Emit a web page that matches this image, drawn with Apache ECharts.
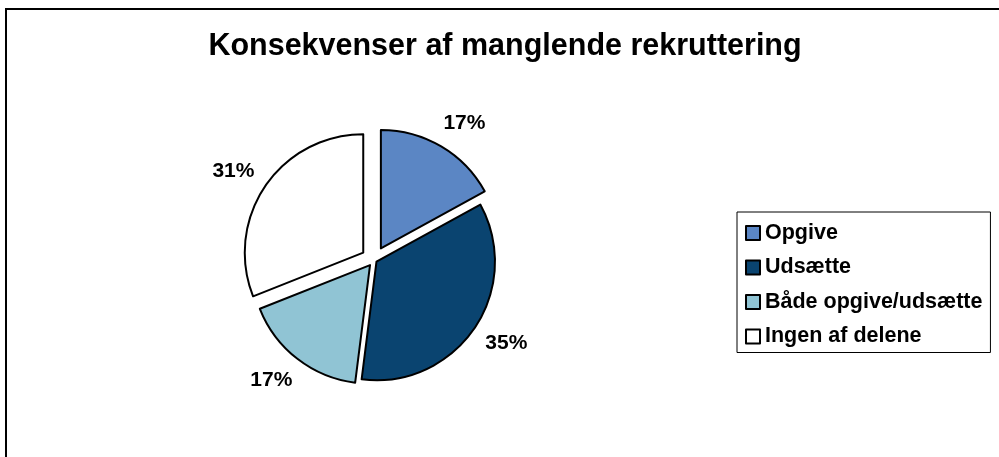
<!DOCTYPE html>
<html>
<head>
<meta charset="utf-8">
<script src="https://cdn.jsdelivr.net/npm/echarts@6/dist/echarts.min.js"></script>
<style>
  html, body { margin: 0; padding: 0; background: #fff; }
  #main { width: 999px; height: 457px; }
</style>
</head>
<body>
<div id="main"></div>
<script>
// data
var categories = ['Opgive', 'Udsætte', 'Både opgive/udsætte', 'Ingen af delene'];
var shares = [17, 35, 17, 31];
var titleText = 'Konsekvenser af manglende rekruttering';

// look of the slices (not data)
var sliceColors = ['#5B86C4', '#0A4470', '#90C4D4', '#FFFFFF'];
var sliceExplode = [13.5, 3, 6.5, 13];

var myChart = echarts.init(document.getElementById('main'));

var fontFam = 'Liberation Sans, Arial, sans-serif';

// one pie layer per slice so every slice can be pulled out by its own amount;
// each layer keeps all values so the angles stay the same, only its own slice is painted
var pieLayers = categories.map(function (_, k) {
    return {
        type: 'pie',
        center: [374, 260],
        radius: 118.5,
        startAngle: 90,
        clockwise: true,
        selectedMode: 'multiple',
        selectedOffset: sliceExplode[k],
        avoidLabelOverlap: false,
        emphasis: { disabled: true },
        label: {
            position: 'outside',
            formatter: '{c}%',
            fontSize: 21,
            fontWeight: 'bold',
            color: '#000',
            fontFamily: fontFam
        },
        labelLine: { show: false, length: 27, length2: -16.5 },
        data: categories.map(function (name, i) {
            var own = i === k;
            return {
                name: name,
                value: shares[i],
                selected: own,
                itemStyle: own
                    ? { color: sliceColors[i], borderColor: '#000', borderWidth: 2 }
                    : { color: 'transparent', borderWidth: 0 },
                label: { show: own }
            };
        })
    };
});

var option = {
    animation: false,
    backgroundColor: '#fff',
    textStyle: { fontFamily: fontFam },
    title: {
        text: titleText,
        left: 505,
        textAlign: 'center',
        top: 31,
        padding: 0,
        textStyle: {
            fontSize: 30.5,
            fontWeight: 'bold',
            color: '#000',
            fontFamily: fontFam
        }
    },
    legend: {
        orient: 'vertical',
        left: 737,
        top: 212,
        padding: [10, 8, 5, 8],
        itemGap: 12.5,
        itemWidth: 14,
        itemHeight: 14,
        icon: 'rect',
        borderColor: '#000',
        borderWidth: 1,
        itemStyle: { borderColor: '#000', borderWidth: 2 },
        textStyle: {
            fontSize: 21.5,
            fontWeight: 'bold',
            color: '#000',
            fontFamily: fontFam
        },
        data: categories.map(function (name, i) {
            return { name: name, itemStyle: { color: sliceColors[i] } };
        })
    },
    graphic: [{
        type: 'rect',
        z: -10,
        shape: { x: 6, y: 9, width: 1200, height: 600 },
        style: { fill: 'none', stroke: '#000', lineWidth: 2 }
    }],
    series: pieLayers
};
myChart.setOption(option, true);
</script>
</body>
</html>
